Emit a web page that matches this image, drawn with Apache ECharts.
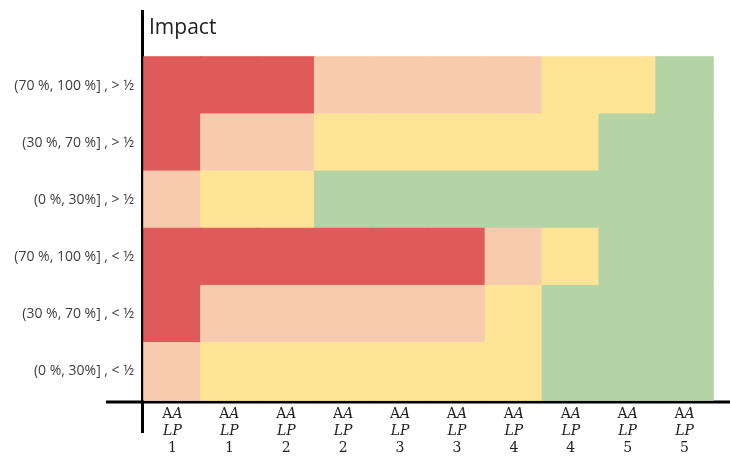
<!DOCTYPE html>
<html><head><meta charset="utf-8">
<script src="https://cdn.jsdelivr.net/npm/echarts@6/dist/echarts.min.js"></script>
<style>html,body{margin:0;padding:0;background:#fff}#c{width:730px;height:456px}</style>
</head><body><div id="c"></div>
<script>
// Column tick labels (x) : AA / LP / n
const xNumbers = ['1','1','2','2','3','3','4','4','5','5'];
// Row labels (y), top to bottom
const yLabels = ['(70 %, 100 %] , > ½','(30 %, 70 %] , > ½','(0 %, 30%] , > ½','(70 %, 100 %] , < ½','(30 %, 70 %] , < ½','(0 %, 30%] , < ½'];
// Risk level per cell: 3 = red, 2 = peach, 1 = yellow, 0 = green (rows top to bottom)
const row1 = [3,3,3,2,2,2,2,1,1,0];
const row2 = [3,2,2,1,1,1,1,1,0,0];
const row3 = [2,1,1,0,0,0,0,0,0,0];
const row4 = [3,3,3,3,3,3,2,1,0,0];
const row5 = [3,2,2,2,2,2,1,0,0,0];
const row6 = [2,1,1,1,1,1,1,0,0,0];
const levelColors = ['#b5d4a6','#fee496','#f7cbae','#df5a5b'];

const rows = [row1,row2,row3,row4,row5,row6];
const data = [];
rows.forEach((r, ri) => r.forEach((v, ci) => {
  const c = levelColors[v];
  data.push({value: [ci, ri, v], itemStyle: {color: c, borderColor: c, borderWidth: 1}});
}));

const chart = echarts.init(document.getElementById('c'));
chart.setOption({
  animation: false,
  grid: {left: 144, right: 17, top: 57, bottom: 56},
  xAxis: {
    type: 'category', data: xNumbers.map((n, i) => i),
    axisLine: {show: false}, axisTick: {show: false}, splitLine: {show: false},
    axisLabel: {
      margin: 6, interval: 0,
      formatter: (v, i) => '{n|A}{it|A}\n{it|LP}\n{n|' + xNumbers[i] + '}',
      rich: {
        n: {fontFamily: 'DejaVu Serif', fontSize: 14, color: '#222', lineHeight: 17},
        it: {fontFamily: 'DejaVu Serif', fontStyle: 'italic', fontSize: 14, color: '#222', lineHeight: 17}
      }
    }
  },
  yAxis: {
    type: 'category', data: yLabels, inverse: true,
    axisLine: {show: false}, axisTick: {show: false}, splitLine: {show: false},
    axisLabel: {margin: 10, fontFamily: 'Open Sans', fontSize: 14, color: '#404040'}
  },
  series: [{type: 'heatmap', data: data}],
  graphic: [
    {type: 'line', shape: {x1: 142.5, y1: 10, x2: 142.5, y2: 433}, style: {stroke: '#000', lineWidth: 3}},
    {type: 'line', shape: {x1: 106, y1: 402, x2: 730, y2: 402}, style: {stroke: '#000', lineWidth: 3}},
    {type: 'text', left: 149, top: 18, style: {text: 'Impact', font: '21px "Open Sans"', fill: '#222'}}
  ]
});
</script></body></html>
